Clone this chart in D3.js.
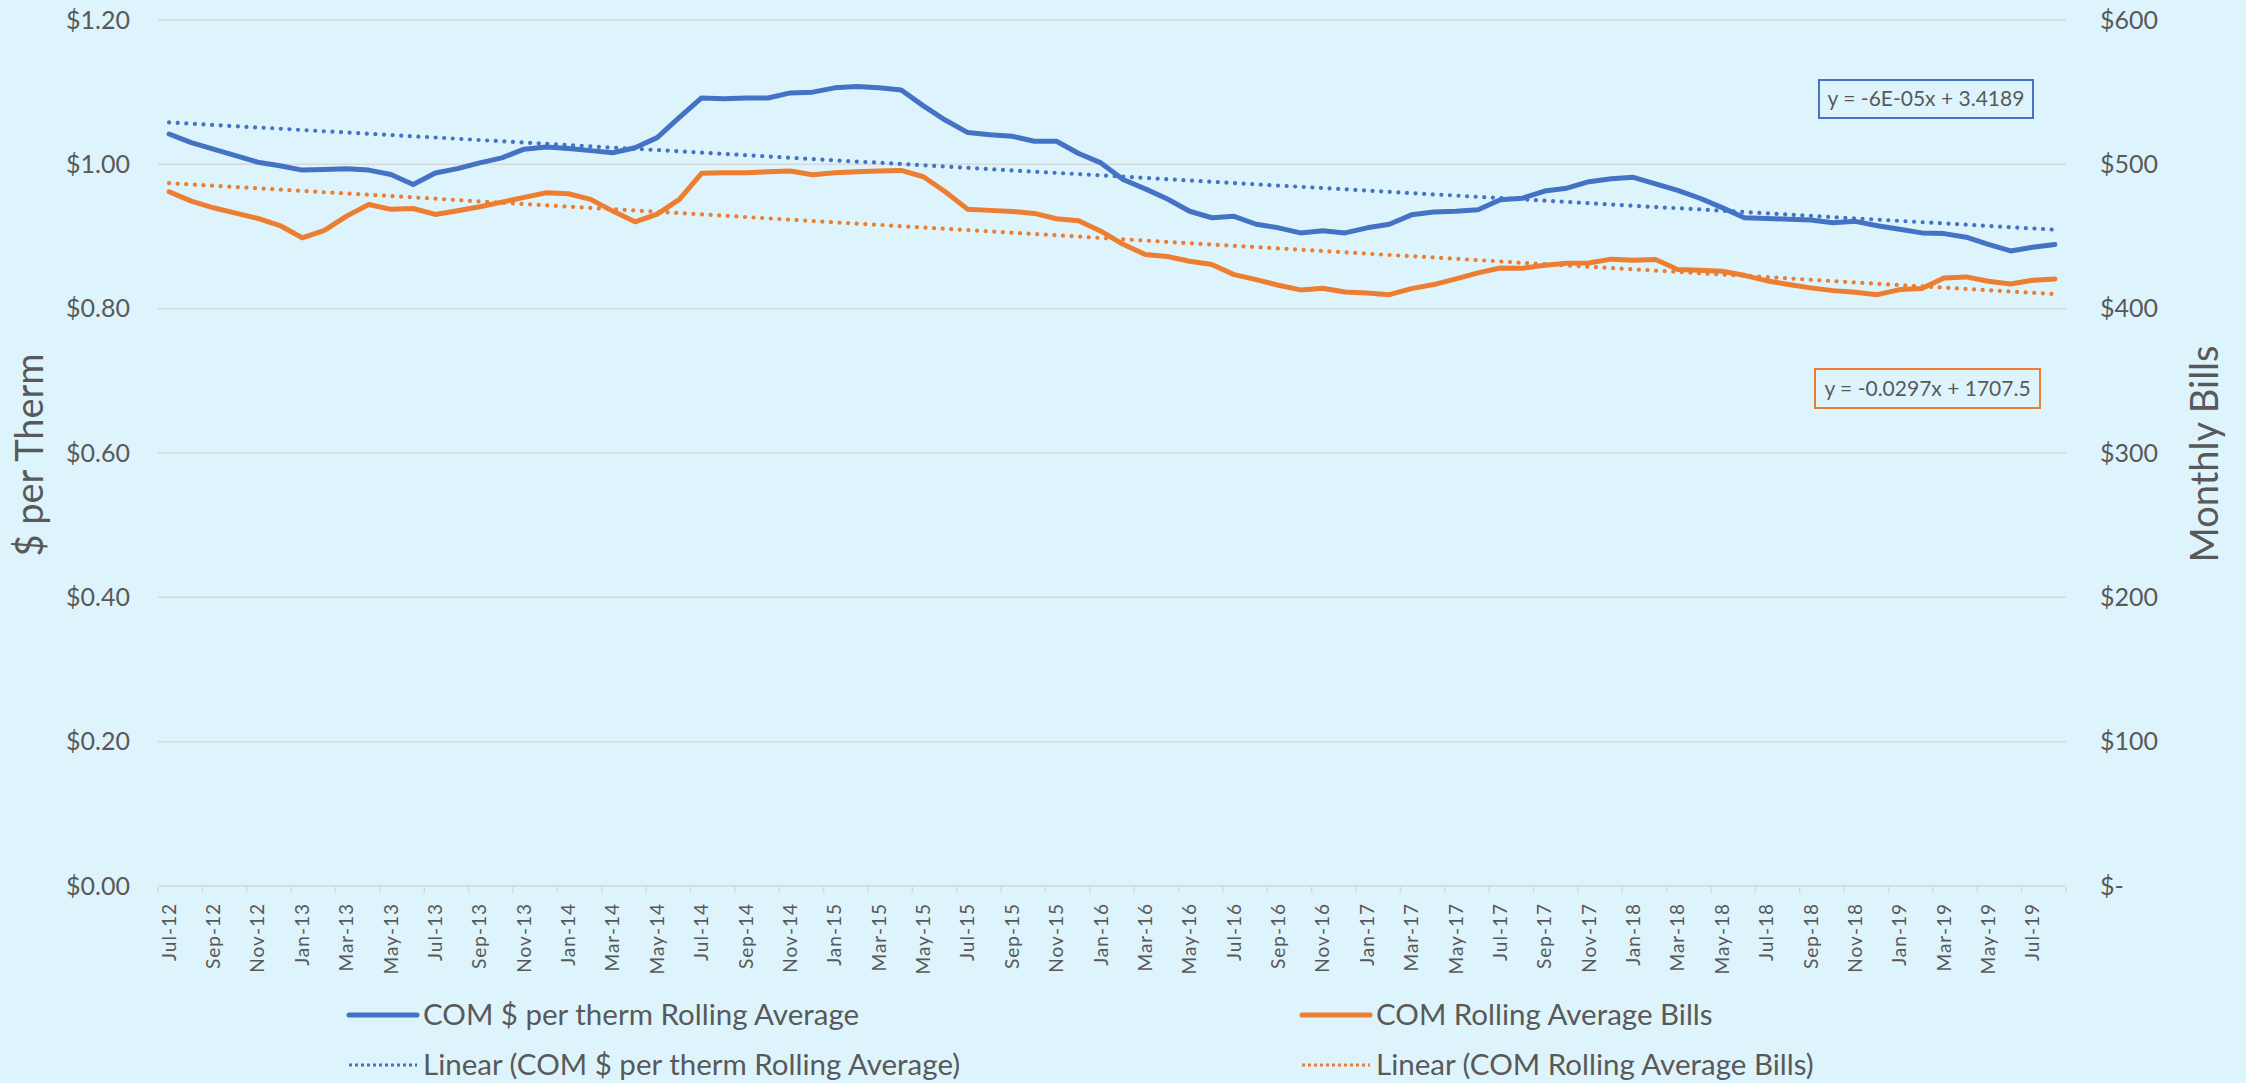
<!DOCTYPE html>
<html>
<head>
<meta charset="utf-8">
<script src="https://cdn.jsdelivr.net/npm/d3@7"></script>
<style>
  html, body { margin: 0; padding: 0; background: #DEF4FC; }
  svg { display: block; }
  text { font-family: Lato, "Open Sans", sans-serif; fill: #595959; }
</style>
</head>
<body>
<svg id="chart" width="2246" height="1083"></svg>
<script>
const months = ["Jul-12","Aug-12","Sep-12","Oct-12","Nov-12","Dec-12",
"Jan-13","Feb-13","Mar-13","Apr-13","May-13","Jun-13","Jul-13","Aug-13","Sep-13","Oct-13","Nov-13","Dec-13",
"Jan-14","Feb-14","Mar-14","Apr-14","May-14","Jun-14","Jul-14","Aug-14","Sep-14","Oct-14","Nov-14","Dec-14",
"Jan-15","Feb-15","Mar-15","Apr-15","May-15","Jun-15","Jul-15","Aug-15","Sep-15","Oct-15","Nov-15","Dec-15",
"Jan-16","Feb-16","Mar-16","Apr-16","May-16","Jun-16","Jul-16","Aug-16","Sep-16","Oct-16","Nov-16","Dec-16",
"Jan-17","Feb-17","Mar-17","Apr-17","May-17","Jun-17","Jul-17","Aug-17","Sep-17","Oct-17","Nov-17","Dec-17",
"Jan-18","Feb-18","Mar-18","Apr-18","May-18","Jun-18","Jul-18","Aug-18","Sep-18","Oct-18","Nov-18","Dec-18",
"Jan-19","Feb-19","Mar-19","Apr-19","May-19","Jun-19","Jul-19","Aug-19"];

const perTherm = [1.042,1.030,1.021,1.012,1.003,0.998,
0.992,0.993,0.994,0.992,0.986,0.972,0.988,0.994,1.002,1.009,1.021,1.024,
1.022,1.019,1.016,1.023,1.037,1.065,1.092,1.091,1.092,1.092,1.099,1.100,
1.106,1.108,1.106,1.103,1.081,1.061,1.044,1.041,1.039,1.032,1.032,1.015,
1.002,0.979,0.966,0.952,0.935,0.926,0.928,0.917,0.912,0.905,0.908,0.905,
0.912,0.917,0.930,0.934,0.935,0.937,0.951,0.953,0.963,0.967,0.976,0.980,
0.982,0.973,0.964,0.953,0.940,0.926,0.925,0.924,0.923,0.919,0.921,0.915,
0.910,0.905,0.904,0.899,0.889,0.880,0.885,0.889];

const bills = [481.0,474.5,469.9,466.2,462.5,457.6,
449.1,454.2,464.1,472.2,468.8,469.4,465.3,467.8,470.6,473.8,477.1,480.3,
479.6,475.7,467.6,460.2,465.5,475.7,493.8,494.2,494.2,494.9,495.4,492.8,
494.2,494.9,495.4,495.8,491.4,480.8,468.8,468.1,467.4,466.0,462.3,460.9,
453.7,444.6,437.5,436.1,432.9,430.6,423.6,420.1,416.2,413.0,414.1,411.6,
410.9,409.7,413.9,416.7,420.6,424.8,428.2,428.0,430.1,431.5,431.6,434.3,
433.6,434.0,427.1,426.6,425.9,423.1,419.4,416.7,414.4,412.5,411.3,409.7,
413.2,413.9,421.3,422.0,419.0,417.1,419.7,420.6];

const leftTicks = [0, 0.2, 0.4, 0.6, 0.8, 1.0, 1.2];
const leftTickLabels = ["$0.00","$0.20","$0.40","$0.60","$0.80","$1.00","$1.20"];
const rightTicks = [0, 100, 200, 300, 400, 500, 600];
const rightTickLabels = ["$-","$100","$200","$300","$400","$500","$600"];

const seriesNames = ["COM $ per therm Rolling Average", "COM Rolling Average Bills"];
const trendNames = ["Linear (COM $ per therm Rolling Average)", "Linear (COM Rolling Average Bills)"];
const equations = ["y = -6E-05x + 3.4189", "y = -0.0297x + 1707.5"];
const leftTitle = "$ per Therm";
const rightTitle = "Monthly Bills";

const BLUE = "#4472C4", ORANGE = "#ED7D31", GRID = "#D6D9DC", TXT = "#595959";

const svg = d3.select("#chart");
const W = 2246, H = 1083;
svg.append("rect").attr("width", W).attr("height", H).attr("fill", "#DEF4FC");

const plot = {left: 158, right: 2066, top: 20, bottom: 886};

const x = d3.scaleBand().domain(months).range([plot.left, plot.right]).padding(0);
const cx = m => x(m) + x.bandwidth() / 2;
const yL = d3.scaleLinear().domain([0, 1.2]).range([plot.bottom, plot.top]);
const yR = d3.scaleLinear().domain([0, 600]).range([plot.bottom, plot.top]);

// gridlines
svg.append("g").selectAll("line").data(leftTicks.filter(t => t > 0)).join("line")
  .attr("x1", plot.left).attr("x2", plot.right)
  .attr("y1", d => yL(d)).attr("y2", d => yL(d))
  .attr("stroke", GRID).attr("stroke-width", 1.5);

// left axis
const leftAxis = d3.axisLeft(yL).tickValues(leftTicks).tickSize(0).tickPadding(0)
  .tickFormat((d, i) => leftTickLabels[i]);
const gL = svg.append("g").attr("transform", `translate(130,0)`).call(leftAxis);
gL.select(".domain").remove();
gL.selectAll("text").attr("font-size", 25).attr("fill", TXT).attr("font-family", "Lato");

// right axis
const rightAxis = d3.axisRight(yR).tickValues(rightTicks).tickSize(0).tickPadding(0)
  .tickFormat((d, i) => rightTickLabels[i]);
const gR = svg.append("g").attr("transform", `translate(2100,0)`).call(rightAxis);
gR.select(".domain").remove();
gR.selectAll("text").attr("font-size", 25).attr("fill", TXT).attr("font-family", "Lato");

// bottom axis
const gB = svg.append("g").attr("transform", `translate(0,${plot.bottom})`);
gB.append("line").attr("x1", plot.left).attr("x2", plot.right)
  .attr("stroke", GRID).attr("stroke-width", 1.5);
const boundaries = d3.range(0, months.length + 1, 2);
gB.selectAll("line.tk").data(boundaries).join("line").attr("class", "tk")
  .attr("x1", d => plot.left + d * x.step()).attr("x2", d => plot.left + d * x.step())
  .attr("y1", 0).attr("y2", 7).attr("stroke", GRID).attr("stroke-width", 1.5);
gB.selectAll("text").data(months.filter((m, i) => i % 2 === 0)).join("text")
  .attr("transform", d => `translate(${cx(d)},17) rotate(-90)`)
  .attr("text-anchor", "end").attr("dy", "0.35em")
  .attr("font-size", 19).attr("letter-spacing", 1).attr("fill", TXT)
  .text(d => d);

// trendlines (least squares on date serial)
const parseM = d3.timeParse("%b-%y");
const serial = m => (parseM(m) - new Date(1899, 11, 30)) / 86400000;
function fit(vals) {
  const xs = months.map(serial);
  const mx = d3.mean(xs), my = d3.mean(vals);
  let num = 0, den = 0;
  xs.forEach((xv, i) => { num += (xv - mx) * (vals[i] - my); den += (xv - mx) ** 2; });
  const b = num / den, a = my - b * mx;
  return months.map(m => a + b * serial(m));
}
const trendL = fit(perTherm), trendR = fit(bills);

const lineL = d3.line().x((d, i) => cx(months[i])).y(d => yL(d));
const lineR = d3.line().x((d, i) => cx(months[i])).y(d => yR(d));

svg.append("path").datum(trendL).attr("d", lineL).attr("fill", "none")
  .attr("stroke", BLUE).attr("stroke-width", 4.2).attr("stroke-linecap", "round")
  .attr("stroke-dasharray", "0.01 8.6");
svg.append("path").datum(trendR).attr("d", lineR).attr("fill", "none")
  .attr("stroke", ORANGE).attr("stroke-width", 4.2).attr("stroke-linecap", "round")
  .attr("stroke-dasharray", "0.01 8.6");

svg.append("path").datum(perTherm).attr("d", lineL).attr("fill", "none")
  .attr("stroke", BLUE).attr("stroke-width", 5).attr("stroke-linejoin", "round").attr("stroke-linecap", "round");
svg.append("path").datum(bills).attr("d", lineR).attr("fill", "none")
  .attr("stroke", ORANGE).attr("stroke-width", 5).attr("stroke-linejoin", "round").attr("stroke-linecap", "round");

// equation boxes
const eqBoxes = [
  {text: equations[0], color: BLUE, x: 1819, y: 80, w: 214, h: 38},
  {text: equations[1], color: ORANGE, x: 1815, y: 369, w: 225, h: 39}
];
eqBoxes.forEach(b => {
  svg.append("rect").attr("x", b.x).attr("y", b.y).attr("width", b.w).attr("height", b.h)
    .attr("fill", "#DEF4FC").attr("stroke", b.color).attr("stroke-width", 2);
  svg.append("text").attr("x", b.x + b.w / 2).attr("y", b.y + b.h / 2).attr("dy", "0.35em")
    .attr("text-anchor", "middle").attr("font-size", 21).attr("fill", TXT).text(b.text);
});

// axis titles
svg.append("text").attr("transform", "translate(30,455) rotate(-90)")
  .attr("text-anchor", "middle").attr("dy", "0.35em").attr("font-size", 38).attr("fill", TXT).text(leftTitle);
svg.append("text").attr("transform", "translate(2205,454) rotate(-90)")
  .attr("text-anchor", "middle").attr("dy", "0.35em").attr("font-size", 38).attr("fill", TXT).text(rightTitle);

// legend
const legend = [
  {name: seriesNames[0], color: BLUE, dotted: false, x: 347, y: 1015},
  {name: seriesNames[1], color: ORANGE, dotted: false, x: 1300, y: 1015},
  {name: trendNames[0], color: BLUE, dotted: true, x: 347, y: 1065},
  {name: trendNames[1], color: ORANGE, dotted: true, x: 1300, y: 1065}
];
legend.forEach(l => {
  const g = svg.append("g");
  g.append("line").attr("x1", l.x + 2).attr("x2", l.x + 70).attr("y1", l.y).attr("y2", l.y)
    .attr("stroke", l.color)
    .attr("stroke-width", l.dotted ? 3 : 5)
    .attr("stroke-linecap", l.dotted ? "butt" : "round")
    .attr("stroke-dasharray", l.dotted ? "3 3" : null);
  g.append("text").attr("x", l.x + 76).attr("y", l.y).attr("dy", "0.35em")
    .attr("font-size", 29.5).attr("fill", TXT).text(l.name);
});
</script>
</body>
</html>
